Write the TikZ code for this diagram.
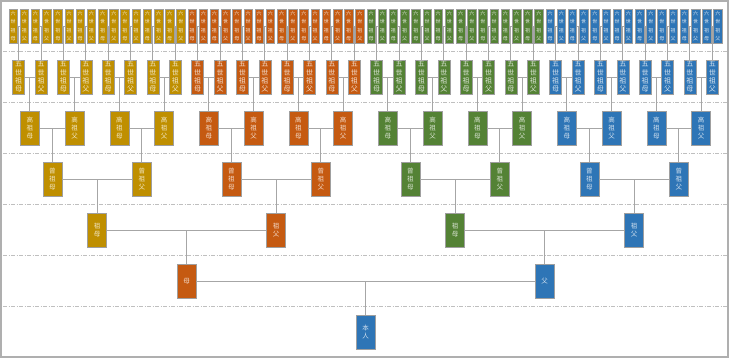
\documentclass[tikz,border=0pt]{standalone}
\usepackage{fontspec}
\newfontfamily\cjk{Noto Sans CJK SC}
\usetikzlibrary{calc}
\definecolor{c0}{HTML}{BF8F00}
\definecolor{c1}{HTML}{C55A11}
\definecolor{c2}{HTML}{548235}
\definecolor{c3}{HTML}{2E75B6}
\definecolor{lineg}{HTML}{A6A6A6}
\definecolor{sepg}{HTML}{BFBFBF}
\definecolor{frameg}{HTML}{AFAFAF}
\begin{document}
\begin{tikzpicture}[x=1pt,y=-1pt,
  person/.style={draw=gray!75, line width=0.5pt, minimum height=34pt, inner sep=0pt,
    align=center, fill=#1, text=white!80!#1},
  conn/.style={draw=lineg, line width=0.9pt},
  sepline/.style={draw=sepg, line width=0.8pt, dash pattern=on 4pt off 1.5pt on 1pt off 1.5pt},
]
\useasboundingbox (0,0) rectangle (731,359);
% frame
\draw[frameg, line width=2pt] (1,1) rectangle (728,357);
% separators
\foreach \yy in {51.5,102.5,153.5,204.5,255.5,306.5}
  \draw[sepline] (3,\yy) -- (727,\yy);
% ancestors, levels 6..2
\foreach \L/\pre/\w/\fs/\sk in {6/六\\世\\祖/8.5/5/8.3, 5/五\\世\\祖/12/7/8.3, 4/高\\祖/19/6.5/7.6, 3/曾\\祖/19/6.5/7.6, 2/祖/19/6.5/7.6} {
  \pgfmathtruncatemacro\N{2^\L-1}
  \pgfmathsetmacro\sp{716/2^\L}
  \pgfmathtruncatemacro\q{2^(\L-2)}
  \pgfmathsetmacro\yy{332-51*\L}
  \foreach \i in {0,...,\N} {
    \pgfmathtruncatemacro\c{floor(\i/\q)}
    \pgfmathtruncatemacro\sx{mod(\i,2)}
    \pgfmathsetmacro\xx{365.5+(\i-\N/2)*\sp}
    \ifnum\sx=0 \def\mf{母}\else\def\mf{父}\fi
    \node[person=c\c, minimum width=\w pt, font=\cjk\fontsize{\fs}{\sk}\selectfont]
      (n\L-\i) at (\xx,\yy) {\pre\\\mf};
  }
}
% parents and self
\node[person=c1, minimum width=19pt, font=\cjk\fontsize{6.5}{7.6}\selectfont] (n1-0) at (186.5,281) {母};
\node[person=c3, minimum width=19pt, font=\cjk\fontsize{6.5}{7.6}\selectfont] (n1-1) at (544.5,281) {父};
\node[person=c3, minimum width=19pt, font=\cjk\fontsize{6.5}{8}\selectfont] (n0-0) at (365.5,332) {本\\人};
% connectors
\foreach \L in {1,...,6} {
  \pgfmathtruncatemacro\M{2^(\L-1)-1}
  \pgfmathtruncatemacro\P{\L-1}
  \foreach \k in {0,...,\M} {
    \pgfmathtruncatemacro\a{2*\k}
    \pgfmathtruncatemacro\b{2*\k+1}
    \draw[conn] (n\L-\a.east) -- coordinate[pos=0.5] (m\L-\k) (n\L-\b.west);
    \draw[conn] (m\L-\k) -- (m\L-\k |- n\P-\k.north);
  }
}
\end{tikzpicture}
\end{document}
